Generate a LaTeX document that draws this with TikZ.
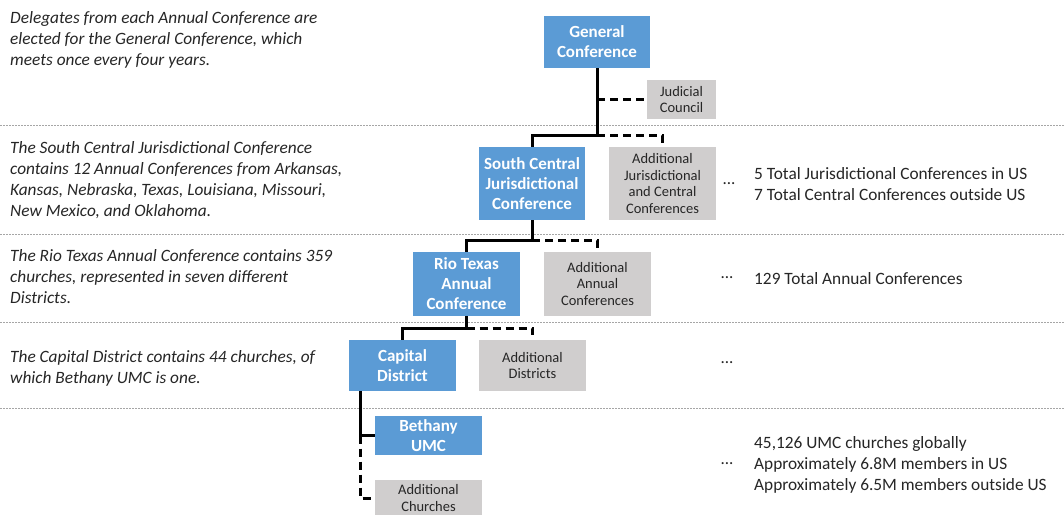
\documentclass[tikz,border=0pt]{standalone}
\usepackage{fontspec}
\setmainfont{Carlito}
\definecolor{boxblue}{HTML}{5B9BD5}
\definecolor{boxgray}{HTML}{D0CECE}
\definecolor{txt}{HTML}{262626}
\definecolor{sepgray}{HTML}{A6A6A6}
\begin{document}
\begin{tikzpicture}[x=1pt,y=-1pt,
  bluebox/.style={fill=boxblue,draw=none,inner sep=0pt,text=white,align=center,
    font=\fontsize{17}{20}\selectfont\bfseries},
  graybox/.style={fill=boxgray,draw=none,inner sep=0pt,text=txt,align=center,
    font=\fontsize{14.5}{16.5}\selectfont},
  note/.style={anchor=west,align=left,text=txt,inner sep=0pt,
    font=\fontsize{17.3}{21}\selectfont\itshape},
  stat/.style={anchor=west,align=left,text=txt,inner sep=0pt,
    font=\fontsize{17.3}{21}\selectfont},
  dots/.style={text=txt,inner sep=0pt,font=\fontsize{17}{21}\selectfont},
  sep/.style={sepgray,line width=0.9pt,dash pattern=on 1.6pt off 1.4pt},
  conn/.style={black,line width=3pt},
  dconn/.style={black,line width=3pt,dash pattern=on 8pt off 5pt}]
\useasboundingbox (0,0) rectangle (1064,514);
\clip (0,0) rectangle (1064,514);
\fill[white] (0,0) rectangle (1064,514);

% separators
\draw[sep] (0,125) -- (1064,125);
\draw[sep] (0,234) -- (1064,234);
\draw[sep] (0,322) -- (1064,322);
\draw[sep] (0,408) -- (1064,408);

% boxes
\node[bluebox,minimum width=106pt,minimum height=52pt] (gc) at (597,42) {General\\Conference};
\node[graybox,minimum width=69pt,minimum height=39pt] (jc) at (681.5,99.5) {Judicial\\Council};
\node[bluebox,minimum width=106pt,minimum height=73pt] (scj) at (532,183.5) {South Central\\Jurisdictional\\Conference};
\node[graybox,minimum width=107pt,minimum height=73pt] (ajcc) at (662.5,183.5) {Additional\\Jurisdictional\\and Central\\Conferences};
\node[bluebox,minimum width=107pt,minimum height=64pt] (rt) at (466.5,284) {Rio Texas\\Annual\\Conference};
\node[graybox,minimum width=107pt,minimum height=64pt] (aac) at (597.5,284) {Additional\\Annual\\Conferences};
\node[bluebox,minimum width=107pt,minimum height=51pt] (cd) at (402.5,365.5) {Capital\\District};
\node[graybox,minimum width=107pt,minimum height=51pt] (ad) at (532.5,365.5) {Additional\\Districts};
\node[bluebox,minimum width=107pt,minimum height=39pt] (bum) at (428.5,435.5) {Bethany\\UMC};
\node[graybox,minimum width=107pt,minimum height=36pt] (ac) at (428.5,498) {Additional\\Churches};

% connectors
\coordinate (b1) at (597,135);
\coordinate (jcb) at (597,99.5);
\draw[conn] (gc.south) -- (b1);
\draw[conn] (b1) -| (scj.north);
\draw[dconn] (b1) -| (ajcc.north);
\draw[dconn] (jcb) -- (jc.west);

\coordinate (b2) at (532,240);
\draw[conn] (scj.south) -- (b2);
\draw[conn] (b2) -| (rt.north);
\draw[dconn] (b2) -| (aac.north);

\coordinate (b3) at (466.5,328);
\draw[conn] (rt.south) -- (b3);
\draw[conn] (b3) -| (cd.north);
\draw[dconn] (b3) -| (ad.north);

\coordinate (ct) at (360,391);
\coordinate (cb) at (360,435.5);
\coordinate (cc) at (360,498);
\draw[conn] (ct) -- (cb) -- (bum.west);
\draw[dconn] (cb) -- (cc) -- (ac.west);

% left notes
\node[note] (n1) at (10,40) {Delegates from each Annual Conference are\\elected for the General Conference, which\\meets once every four years.};
\node[note] (n2) at (10,180) {The South Central Jurisdictional Conference\\contains 12 Annual Conferences from Arkansas,\\Kansas, Nebraska, Texas, Louisiana, Missouri,\\New Mexico, and Oklahoma.};
\node[note] (n3) at (10,277) {The Rio Texas Annual Conference contains 359\\churches, represented in seven different\\Districts.};
\node[note] (n4) at (10,368) {The Capital District contains 44 churches, of\\which Bethany UMC is one.};

% dots
\node[dots] (d1) at (729,184) {...};
\node[dots] (d2) at (727,278) {...};
\node[dots] (d3) at (727,363) {...};
\node[dots] (d4) at (727,464) {...};

% right stats
\node[stat] (s1) at (754,184) {5 Total Jurisdictional Conferences in US\\7 Total Central Conferences outside US};
\node[stat] (s2) at (754,279) {129 Total Annual Conferences};
\node[stat] (s3) at (754,465) {45,126 UMC churches globally\\Approximately 6.8M members in US\\Approximately 6.5M members outside US};
\end{tikzpicture}
\end{document}
